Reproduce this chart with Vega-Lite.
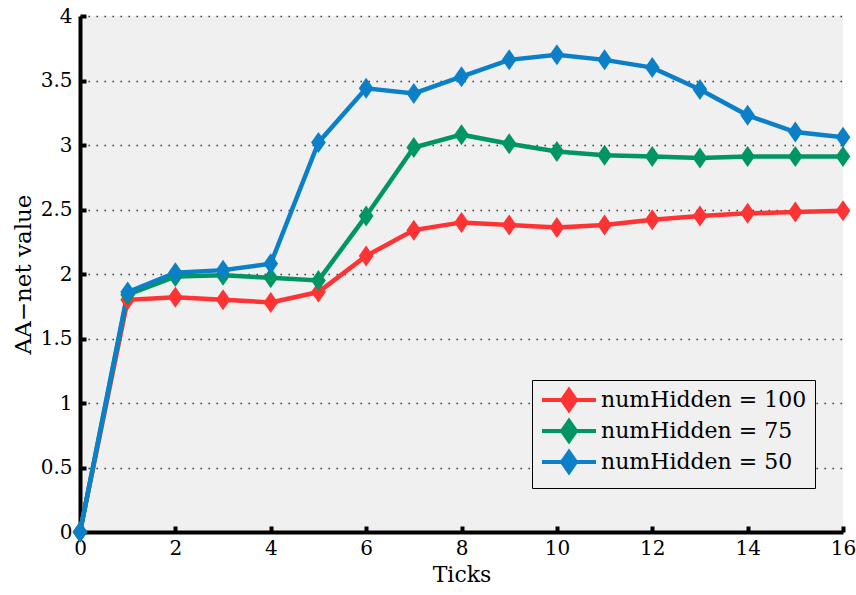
{
  "$schema": "https://vega.github.io/schema/vega-lite/v6.json",
  "width": 763,
  "height": 516,
  "autosize": {"type": "none"},
  "padding": {"left": 80, "top": 16, "right": 13, "bottom": 63},
  "background": "white",
  "config": {"view": {"fill": "#f0f0f0", "stroke": null}, "font": "DejaVu Serif"},
  "data": {"values": [
    {"tick": 0, "value": 0, "series": "numHidden = 100"},
    {"tick": 1, "value": 1.80, "series": "numHidden = 100"},
    {"tick": 2, "value": 1.82, "series": "numHidden = 100"},
    {"tick": 3, "value": 1.80, "series": "numHidden = 100"},
    {"tick": 4, "value": 1.78, "series": "numHidden = 100"},
    {"tick": 5, "value": 1.86, "series": "numHidden = 100"},
    {"tick": 6, "value": 2.14, "series": "numHidden = 100"},
    {"tick": 7, "value": 2.34, "series": "numHidden = 100"},
    {"tick": 8, "value": 2.40, "series": "numHidden = 100"},
    {"tick": 9, "value": 2.38, "series": "numHidden = 100"},
    {"tick": 10, "value": 2.36, "series": "numHidden = 100"},
    {"tick": 11, "value": 2.38, "series": "numHidden = 100"},
    {"tick": 12, "value": 2.42, "series": "numHidden = 100"},
    {"tick": 13, "value": 2.45, "series": "numHidden = 100"},
    {"tick": 14, "value": 2.47, "series": "numHidden = 100"},
    {"tick": 15, "value": 2.48, "series": "numHidden = 100"},
    {"tick": 16, "value": 2.49, "series": "numHidden = 100"},
    {"tick": 0, "value": 0, "series": "numHidden = 75"},
    {"tick": 1, "value": 1.84, "series": "numHidden = 75"},
    {"tick": 2, "value": 1.98, "series": "numHidden = 75"},
    {"tick": 3, "value": 1.99, "series": "numHidden = 75"},
    {"tick": 4, "value": 1.97, "series": "numHidden = 75"},
    {"tick": 5, "value": 1.95, "series": "numHidden = 75"},
    {"tick": 6, "value": 2.45, "series": "numHidden = 75"},
    {"tick": 7, "value": 2.98, "series": "numHidden = 75"},
    {"tick": 8, "value": 3.08, "series": "numHidden = 75"},
    {"tick": 9, "value": 3.01, "series": "numHidden = 75"},
    {"tick": 10, "value": 2.95, "series": "numHidden = 75"},
    {"tick": 11, "value": 2.92, "series": "numHidden = 75"},
    {"tick": 12, "value": 2.91, "series": "numHidden = 75"},
    {"tick": 13, "value": 2.90, "series": "numHidden = 75"},
    {"tick": 14, "value": 2.91, "series": "numHidden = 75"},
    {"tick": 15, "value": 2.91, "series": "numHidden = 75"},
    {"tick": 16, "value": 2.91, "series": "numHidden = 75"},
    {"tick": 0, "value": 0, "series": "numHidden = 50"},
    {"tick": 1, "value": 1.86, "series": "numHidden = 50"},
    {"tick": 2, "value": 2.01, "series": "numHidden = 50"},
    {"tick": 3, "value": 2.03, "series": "numHidden = 50"},
    {"tick": 4, "value": 2.08, "series": "numHidden = 50"},
    {"tick": 5, "value": 3.02, "series": "numHidden = 50"},
    {"tick": 6, "value": 3.44, "series": "numHidden = 50"},
    {"tick": 7, "value": 3.40, "series": "numHidden = 50"},
    {"tick": 8, "value": 3.53, "series": "numHidden = 50"},
    {"tick": 9, "value": 3.66, "series": "numHidden = 50"},
    {"tick": 10, "value": 3.70, "series": "numHidden = 50"},
    {"tick": 11, "value": 3.66, "series": "numHidden = 50"},
    {"tick": 12, "value": 3.60, "series": "numHidden = 50"},
    {"tick": 13, "value": 3.43, "series": "numHidden = 50"},
    {"tick": 14, "value": 3.23, "series": "numHidden = 50"},
    {"tick": 15, "value": 3.10, "series": "numHidden = 50"},
    {"tick": 16, "value": 3.06, "series": "numHidden = 50"}
  ]},
  "encoding": {
    "x": {
      "field": "tick", "type": "quantitative",
      "scale": {"domain": [0, 16], "nice": false},
      "axis": {
        "title": "Ticks", "titleFont": "DejaVu Serif", "titleFontSize": 22, "titleFontWeight": "normal", "titleColor": "black", "titlePadding": 6,
        "values": [0, 2, 4, 6, 8, 10, 12, 14, 16], "format": "~g",
        "labelFont": "DejaVu Serif", "labelFontSize": 20, "labelColor": "black", "labelFlush": false,
        "domainColor": "black", "domainWidth": 4,
        "tickColor": "black", "tickWidth": 4, "tickSize": -6, "labelPadding": 12,
        "grid": false
      }
    },
    "y": {
      "field": "value", "type": "quantitative",
      "scale": {"domain": [0, 4], "nice": false},
      "axis": {
        "title": "AA−net value", "titleFont": "DejaVu Serif", "titleFontSize": 23, "titleFontWeight": "normal", "titleColor": "black", "titlePadding": 5,
        "values": [0, 0.5, 1, 1.5, 2, 2.5, 3, 3.5, 4], "format": "~g",
        "labelFont": "DejaVu Serif", "labelFontSize": 20, "labelColor": "black", "labelFlush": false,
        "domainColor": "black", "domainWidth": 4,
        "tickColor": "black", "tickWidth": 4, "tickSize": -6, "labelPadding": 14,
        "grid": true, "gridDash": [1.5, 6.5], "gridColor": "#333333", "gridWidth": 1.5
      }
    },
    "color": {
      "field": "series", "type": "nominal",
      "scale": {"domain": ["numHidden = 100", "numHidden = 75", "numHidden = 50"], "range": ["#ff3333", "#009663", "#0b80c8"]},
      "legend": {
        "orient": "none", "legendX": 452, "legendY": 364, "title": null,
        "symbolType": "M-2.7,0L2.7,0M0,-1L0.7,0L0,1L-0.7,0Z",
        "symbolSize": 400, "symbolStrokeWidth": 4, "symbolOffset": 17, "labelOffset": 20,
        "labelFont": "DejaVu Serif", "labelFontSize": 22, "labelColor": "black", "labelLimit": 400, "padding": 8,
        "strokeColor": "black", "fillColor": "#f0f0f0", "rowPadding": -5, "symbolOpacity": 1,
        "encode": {"symbols": {"update": {"fill": {"scale": "color", "field": "value"}, "stroke": {"scale": "color", "field": "value"}}}}
      }
    }
  },
  "layer": [
    {"mark": {"type": "line", "strokeWidth": 4.5}},
    {"mark": {"type": "point", "shape": "M0,-1L0.7,0L0,1L-0.7,0Z", "size": 441, "filled": true, "opacity": 1}}
  ]
}
